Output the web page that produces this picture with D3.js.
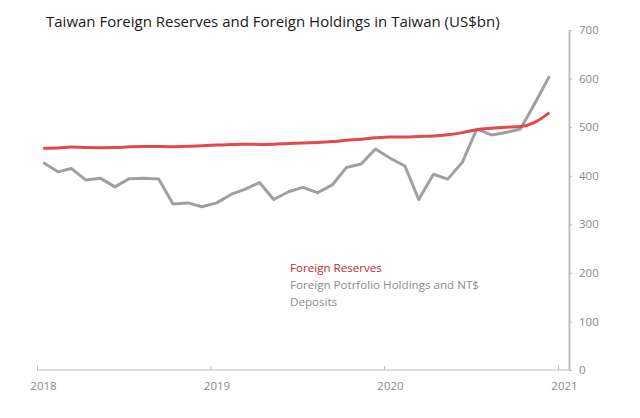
<!DOCTYPE html>
<html><head><meta charset="utf-8">
<script src="https://cdn.jsdelivr.net/npm/d3@7"></script>
<style>
html,body{margin:0;padding:0;background:#fff;}
svg text{font-family:"Open Sans","Noto Sans",sans-serif;}
</style></head>
<body><svg id="chart" width="640" height="418"></svg>
<script>
const months = d3.range(36).map(i => new Date(2018, i, 14));
const foreignReserves = [456.6,457.0,459.1,458.0,457.8,457.9,459.4,460.1,460.0,459.8,460.5,461.8,
  463.0,464.2,464.6,464.5,464.9,466.4,467.1,468.4,470.3,473.0,475.0,478.1,
  479.8,479.8,480.9,481.8,484.3,488.7,494.8,497.6,499.7,501.2,510.5,529.9];
const foreignHoldings = [427,408,415,391,395,377,394,395,393,342,344,336,
  344,362,372,386,351,367,376,365,381,417,424,455,
  436,420,351,403,393,428,496,484,489,496,550,605];
const yTicks = [0,100,200,300,400,500,600,700];
const xTickYears = [2018,2019,2020,2021];
const title = "Taiwan Foreign Reserves and Foreign Holdings in Taiwan (US$bn)";
const legendItems = [
  {lines:["Foreign Reserves"], color:"#c8282e"},
  {lines:["Foreign Potrfolio Holdings and NT$","Deposits"], color:"#8c8c8c"}
];

const svg = d3.select("#chart");
const x = d3.scaleTime().domain([new Date(2018,0,1), new Date(2021,0,1)]).range([37, 558]);
const y = d3.scaleLinear().domain([0,700]).range([370,30]);

// x axis
const xAxis = d3.axisBottom(x).tickValues(xTickYears.map(yr => new Date(yr,0,1)))
  .tickFormat(d3.timeFormat("%Y")).tickSize(4).tickSizeOuter(0);
const gx = svg.append("g").attr("transform","translate(0,370)").call(xAxis);
gx.select(".domain").remove();
gx.append("line").attr("x1",37).attr("x2",570).attr("y1",0).attr("y2",0)
  .attr("stroke","#bdbdbd").attr("stroke-width",1.2);
gx.selectAll(".tick line").attr("stroke","#bdbdbd").attr("y1",0).attr("y2",-4);
gx.selectAll(".tick text").attr("fill","#8a8a8a").attr("font-size",11.5).attr("dy","1.1em")
  .attr("dx",6);

// y axis right
const yAxis = d3.axisRight(y).tickValues(yTicks).tickSize(3).tickSizeOuter(0).tickPadding(7);
const gy = svg.append("g").attr("transform","translate(569,0)").call(yAxis);
gy.select(".domain").attr("stroke","#bdbdbd").attr("stroke-width",2);
gy.selectAll(".tick line").attr("stroke","#bdbdbd");
gy.selectAll(".tick text").attr("fill","#8a8a8a").attr("font-size",11.5);

// lines
const line = d3.line().x((d,i)=>x(months[i])).y(d=>y(d));
svg.append("path").datum(foreignHoldings).attr("d",line).attr("fill","none")
  .attr("stroke","#a0a0a0").attr("stroke-width",3).attr("stroke-linejoin","round");
svg.append("path").datum(foreignReserves).attr("d",line.curve(d3.curveMonotoneX)).attr("fill","none")
  .attr("stroke","#e5484b").attr("stroke-width",3).attr("stroke-linejoin","round");

// title
svg.append("text").attr("x",46).attr("y",27).attr("font-size",15).attr("fill","#1a1a1a").text(title);

// legend
let ly = 272;
legendItems.forEach(item => {
  item.lines.forEach(t => {
    svg.append("text").attr("x",290).attr("y",ly).attr("font-size",11.6).attr("fill",item.color).text(t);
    ly += 17;
  });
});
</script></body></html>
